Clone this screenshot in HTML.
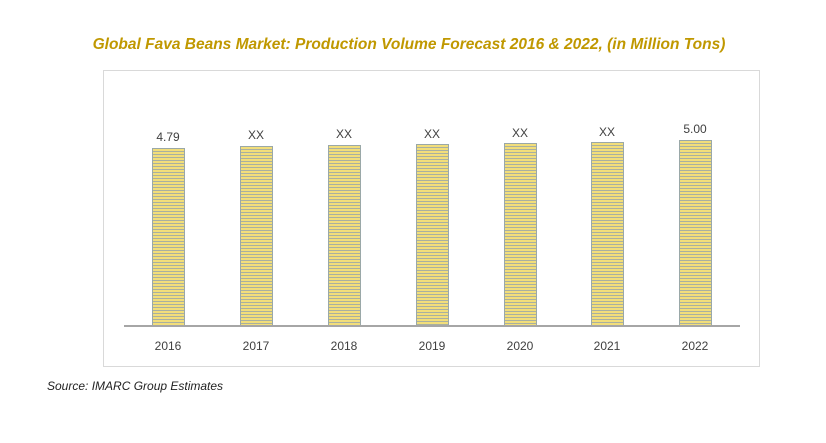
<!DOCTYPE html><html><head><style>
body{margin:0;width:826px;height:443px;background:#fff;font-family:"Liberation Sans",sans-serif;position:relative;overflow:hidden}
.t{position:absolute;top:36px;left:0;width:818px;text-align:center;font-weight:bold;font-style:italic;font-size:15.5px;color:#c09800}
.box{position:absolute;left:103px;top:70px;width:655px;height:295px;border:1px solid #d9d9d9}
.ax{position:absolute;left:124px;top:325px;width:616px;height:2px;background:#a6a6a6}
.b{position:absolute;width:31px;border:1px solid #9aa8a8;background:repeating-linear-gradient(#f2de7a 0 2px,#a9b0a0 2px 3px)}
.l{position:absolute;width:60px;text-align:center;font-size:12px;color:#404040}
.s{position:absolute;left:47px;top:379px;font-style:italic;font-size:12px;color:#222}
</style></head><body>
<div class="t">Global Fava Beans Market: Production Volume Forecast 2016 &amp; 2022, (in Million Tons)</div>
<div class="box"></div>
<div class="b" style="left:152px;top:148px;height:176px"></div>
<div class="b" style="left:240px;top:146px;height:178px"></div>
<div class="b" style="left:328px;top:145px;height:179px"></div>
<div class="b" style="left:416px;top:144px;height:180px"></div>
<div class="b" style="left:504px;top:143px;height:181px"></div>
<div class="b" style="left:591px;top:142px;height:182px"></div>
<div class="b" style="left:679px;top:140px;height:184px"></div>
<div class="ax"></div>
<div class="l" style="left:138px;top:130px">4.79</div>
<div class="l" style="left:226px;top:128px">XX</div>
<div class="l" style="left:314px;top:127px">XX</div>
<div class="l" style="left:402px;top:127px">XX</div>
<div class="l" style="left:490px;top:126px">XX</div>
<div class="l" style="left:577px;top:125px">XX</div>
<div class="l" style="left:665px;top:122px">5.00</div>
<div class="l" style="left:138px;top:339px">2016</div>
<div class="l" style="left:226px;top:339px">2017</div>
<div class="l" style="left:314px;top:339px">2018</div>
<div class="l" style="left:402px;top:339px">2019</div>
<div class="l" style="left:490px;top:339px">2020</div>
<div class="l" style="left:577px;top:339px">2021</div>
<div class="l" style="left:665px;top:339px">2022</div>
<div class="s">Source: IMARC Group Estimates</div>
</body></html>
